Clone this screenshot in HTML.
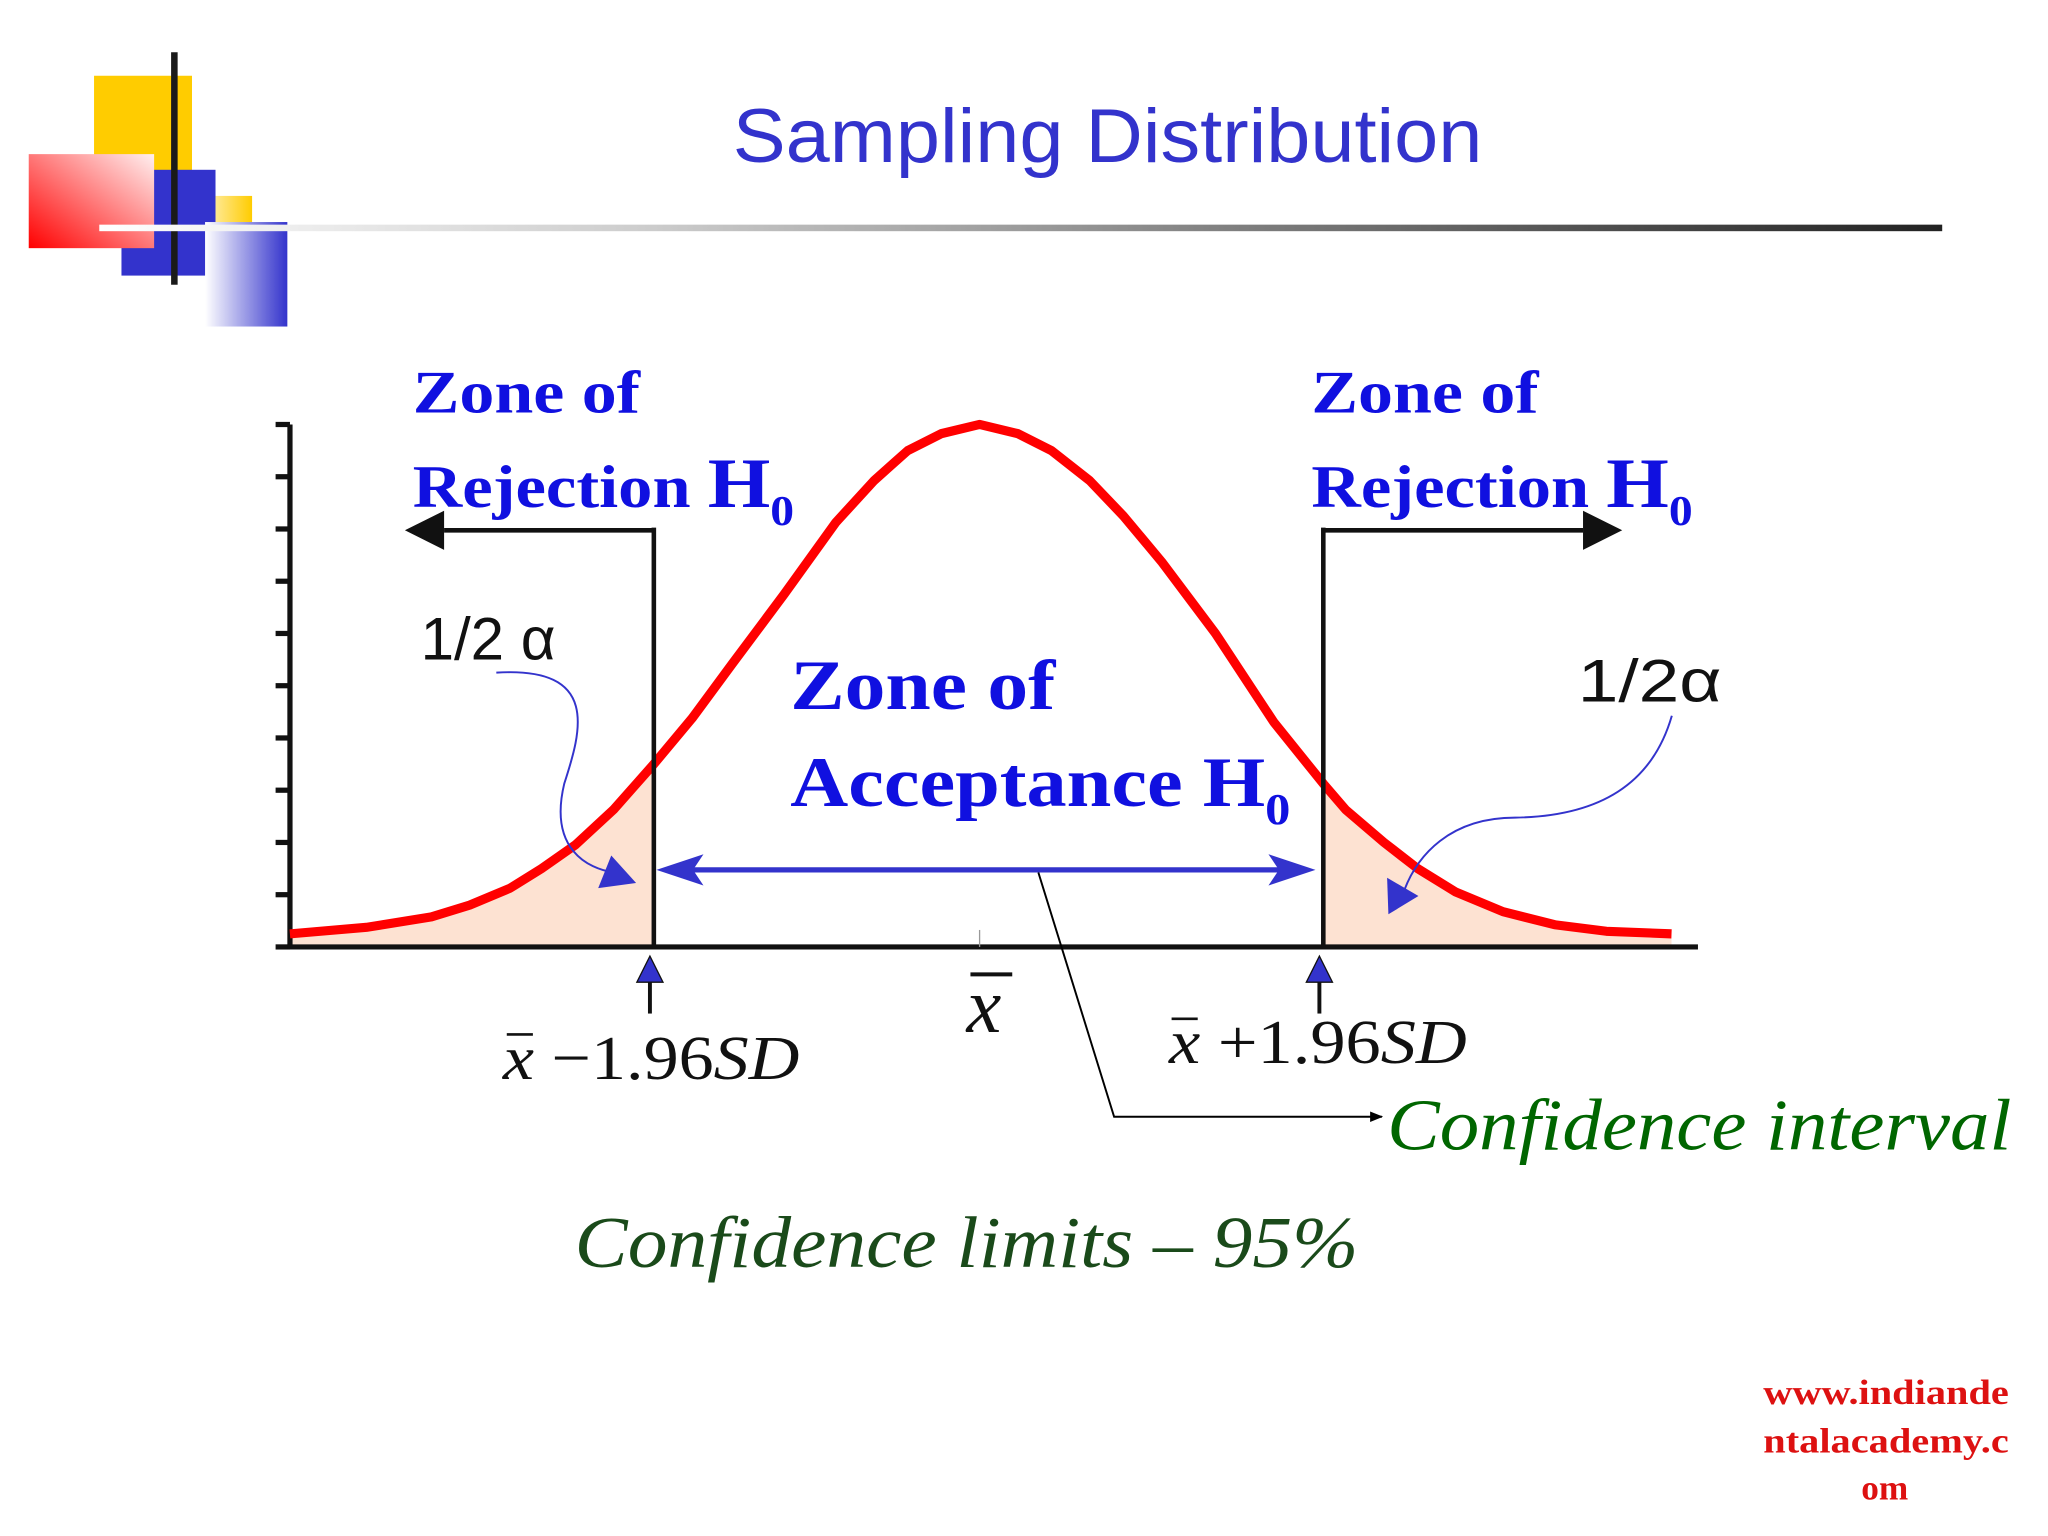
<!DOCTYPE html>
<html><head><meta charset="utf-8"><style>
html,body{margin:0;padding:0;background:#fff;}
svg{display:block;}
</style></head><body>
<svg id="chart" width="2048" height="1536" viewBox="0 0 1568 1176" xmlns="http://www.w3.org/2000/svg">
<defs>
<linearGradient id="redg" x1="0" y1="1" x2="1" y2="0"><stop offset="0" stop-color="#ff0000"/><stop offset="1" stop-color="#fff0f0"/></linearGradient>
<linearGradient id="blueg" x1="0" y1="0" x2="1" y2="0"><stop offset="0" stop-color="#ffffff"/><stop offset="1" stop-color="#3333cc"/></linearGradient>
<linearGradient id="yelg" x1="0" y1="0" x2="1" y2="0"><stop offset="0" stop-color="#ffe890"/><stop offset="1" stop-color="#ffcc00"/></linearGradient>
<linearGradient id="lineg" x1="0" y1="0" x2="1" y2="0"><stop offset="0" stop-color="#ffffff"/><stop offset="0.3" stop-color="#cccccc"/><stop offset="1" stop-color="#222222"/></linearGradient>
<marker id="ah" markerWidth="10" markerHeight="10" refX="9" refY="5" orient="auto" markerUnits="userSpaceOnUse"><path d="M0,1 L10,5 L0,9 z" fill="#000"/></marker>
</defs>
<g>
<rect x="72" y="58" width="75" height="73" fill="#ffcc00"/>
<rect x="93" y="130" width="72" height="81" fill="#3333cc"/>
<rect x="22" y="118" width="96" height="72" fill="url(#redg)"/>
<rect x="165" y="150" width="28" height="26" fill="url(#yelg)"/>
<rect x="157" y="170" width="63" height="80" fill="url(#blueg)"/>
<rect x="131" y="40" width="5" height="178" fill="#1a1a1a"/>
</g>
<rect x="76" y="172" width="1411" height="5" fill="url(#lineg)"/>
<text x="561" y="124" textLength="574" lengthAdjust="spacingAndGlyphs" font-family="Liberation Sans, sans-serif" font-size="58" fill="#3333cc">Sampling Distribution</text>

<g id="plot"></g>

<g font-family="Liberation Serif, serif" font-weight="bold" fill="#1010e0">
<text x="316" y="316" font-size="46" textLength="174" lengthAdjust="spacingAndGlyphs">Zone of</text>
<text x="316" y="388" font-size="46" textLength="292" lengthAdjust="spacingAndGlyphs">Rejection <tspan font-size="54">H</tspan><tspan font-size="32" dy="14">0</tspan></text>
<text x="1004" y="316" font-size="46" textLength="174" lengthAdjust="spacingAndGlyphs">Zone of</text>
<text x="1004" y="388" font-size="46" textLength="292" lengthAdjust="spacingAndGlyphs">Rejection <tspan font-size="54">H</tspan><tspan font-size="32" dy="14">0</tspan></text>
<text x="605" y="543" font-size="54" textLength="203" lengthAdjust="spacingAndGlyphs">Zone of</text>
<text x="605" y="617" font-size="54" textLength="383" lengthAdjust="spacingAndGlyphs">Acceptance H<tspan font-size="34" dy="14">0</tspan></text>
</g>
<text x="322" y="505" font-family="Liberation Sans, sans-serif" font-size="46" fill="#111">1/2 α</text>
<text x="1208" y="537" textLength="110" lengthAdjust="spacingAndGlyphs" font-family="Liberation Sans, sans-serif" font-size="46" fill="#111">1/2α</text>

<g font-family="Liberation Serif, serif" font-style="italic" fill="#111">
<text x="385" y="826" font-size="48" textLength="227" lengthAdjust="spacingAndGlyphs">x<tspan font-style="normal"> −1.96</tspan>SD</text>
<line x1="388" y1="792" x2="408" y2="792" stroke="#111" stroke-width="2"/>
<text x="895" y="814" font-size="48" textLength="228" lengthAdjust="spacingAndGlyphs">x<tspan font-style="normal"> +1.96</tspan>SD</text>
<line x1="897" y1="780" x2="917" y2="780" stroke="#111" stroke-width="2"/>
<text x="740" y="790" font-size="60">x</text>
<line x1="743" y1="746" x2="775" y2="746" stroke="#111" stroke-width="3"/>
</g>
<polyline points="795,668 853,855 1058,855" fill="none" stroke="#000" stroke-width="1.5" marker-end="url(#ah)"/>
<text x="1062" y="880" textLength="478" lengthAdjust="spacingAndGlyphs" font-family="Liberation Serif, serif" font-style="italic" font-size="56" fill="#006600">Confidence interval</text>
<text x="440" y="970" textLength="600" lengthAdjust="spacingAndGlyphs" font-family="Liberation Serif, serif" font-style="italic" font-size="56" fill="#1a4a1a">Confidence limits – 95%</text>
<g font-family="Liberation Serif, serif" font-weight="bold" font-size="27" fill="#dd1111">
<text x="1350" y="1075" textLength="188" lengthAdjust="spacingAndGlyphs">www.indiande</text>
<text x="1350" y="1112" textLength="188" lengthAdjust="spacingAndGlyphs">ntalacademy.c</text>
<text x="1443" y="1148" text-anchor="middle">om</text>
</g>
</svg>
<script>
// z-scores (standard units) and density heights
const zValues = [-3.07,-2.73,-2.44,-2.27,-2.09,-1.95,-1.80,-1.63,-1.45,-1.28,-1.10,-0.87,-0.64,-0.47,-0.32,-0.17,0,0.17,0.32,0.49,0.64,0.81,1.05,1.31,1.53,1.63,1.80,1.95,2.12,2.33,2.56,2.79,3.08];
const densities = [0.010,0.015,0.023,0.032,0.045,0.060,0.078,0.105,0.140,0.175,0.217,0.270,0.325,0.357,0.380,0.393,0.400,0.393,0.380,0.357,0.330,0.295,0.240,0.172,0.125,0.105,0.080,0.060,0.042,0.027,0.017,0.012,0.010];
const criticalZ = [-1.45, 1.53];
const yTicks = [0,1,2,3,4,5,6,7,8,9,10];

const NS='http://www.w3.org/2000/svg';
const plot=document.getElementById('plot');
const X=z=>750+z*172;
const Y=d=>725-d*1000;
function mk(tag,attrs){const e=document.createElementNS(NS,tag);for(const k in attrs)e.setAttribute(k,attrs[k]);plot.appendChild(e);return e;}
function interp(z){for(let i=0;i<zValues.length-1;i++){if(z>=zValues[i]&&z<=zValues[i+1]){const t=(z-zValues[i])/(zValues[i+1]-zValues[i]);return densities[i]+t*(densities[i+1]-densities[i]);}}return 0;}

let lp=`M${X(zValues[0])},${Y(0)}`;
zValues.forEach((z,i)=>{if(z<criticalZ[0])lp+=` L${X(z)},${Y(densities[i])}`;});
lp+=` L${X(criticalZ[0])},${Y(interp(criticalZ[0]))} L${X(criticalZ[0])},${Y(0)} Z`;
const lt=mk('path',{d:lp,fill:'#fde2d2'});


let rp=`M${X(criticalZ[1])},${Y(0)} L${X(criticalZ[1])},${Y(interp(criticalZ[1]))}`;
zValues.forEach((z,i)=>{if(z>criticalZ[1])rp+=` L${X(z)},${Y(densities[i])}`;});
rp+=` L${X(zValues[zValues.length-1])},${Y(0)} Z`;
const rt=mk('path',{d:rp,fill:'#fde2d2'});



const ya=mk('line',{x1:222,y1:325,x2:222,y2:726,stroke:'#111','stroke-width':4});


yTicks.forEach(t=>{const l=mk('line',{x1:211,x2:222,y1:Y(t*0.04),y2:Y(t*0.04),stroke:'#111','stroke-width':4});

});
const xa=mk('line',{x1:220,y1:725,x2:1300,y2:725,stroke:'#111','stroke-width':4});



const pts=zValues.map((z,i)=>`${X(z)},${Y(densities[i])}`).join(' ');
const cv=mk('polyline',{points:pts,fill:'none',stroke:'#ff0000','stroke-width':7,'stroke-linejoin':'round'});



criticalZ.forEach((z,i)=>{
 const x=X(z);
 const v=mk('line',{x1:x,y1:404,x2:x,y2:725,stroke:'#111','stroke-width':3.5});
 
 
 const end=i?1212:340;
 const h=mk('line',{x1:x,y1:406,x2:end,y2:406,stroke:'#111','stroke-width':3.5});
 
 
 const d=i?`M1212,391 L1242,406 L1212,421 Z`:`M340,391 L310,406 L340,421 Z`;
 mk('path',{d:d,fill:'#111'});
 const tx=x-3;
 const tri=mk('path',{d:`M${tx-10},752 L${tx},732 L${tx+10},752 Z`,fill:'#3333cc',stroke:'#111','stroke-width':1});
 
 
 mk('line',{x1:tx,y1:752,x2:tx,y2:776,stroke:'#111','stroke-width':3});
});
mk('line',{x1:750,y1:712,x2:750,y2:725,stroke:'#999','stroke-width':1});

const x0=X(criticalZ[0])+2, x1=X(criticalZ[1])-6;
const da=mk('line',{x1:x0+25,y1:666,x2:x1-25,y2:666,stroke:'#3333cc','stroke-width':4});


mk('path',{d:`M${x0},666 L${x0+36},654 L${x0+28},666 L${x0+36},678 Z`,fill:'#3333cc'});
mk('path',{d:`M${x1},666 L${x1-36},654 L${x1-28},666 L${x1-36},678 Z`,fill:'#3333cc'});

const c1=mk('path',{d:'M380,515 C460,510 445,560 432,600 C420,650 450,665 470,668',fill:'none',stroke:'#3333cc','stroke-width':1.5});


mk('path',{d:'M487,676 L458,680 L468,655 Z',fill:'#3333cc'});
const c2=mk('path',{d:'M1280,548 C1265,600 1225,625 1160,626 C1110,626 1085,655 1075,682',fill:'none',stroke:'#3333cc','stroke-width':1.5});


mk('path',{d:'M1063,700 L1062,672 L1086,686 Z',fill:'#3333cc'});
</script>
</body></html>
